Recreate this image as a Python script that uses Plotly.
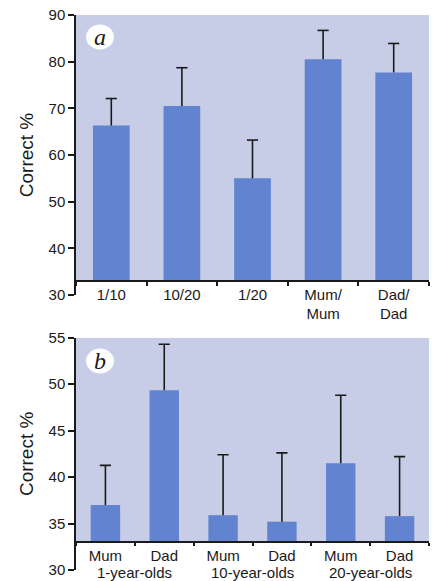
import plotly.graph_objects as go

# ---- Panel a data ----
cats_a = ["1/10", "10/20", "1/20", "Mum/<br>Mum", "Dad/<br>Dad"]
vals_a = [66.3, 70.5, 55.0, 80.5, 77.7]
errs_a = [5.8, 8.2, 8.2, 6.2, 6.2]
yticks_a = [30, 40, 50, 60, 70, 80, 90]

# ---- Panel b data ----
groups_b = ["1-year-olds", "1-year-olds", "10-year-olds", "10-year-olds",
            "20-year-olds", "20-year-olds"]
parents_b = ["Mum", "Dad", "Mum", "Dad", "Mum", "Dad"]
vals_b = [37.0, 49.35, 35.9, 35.2, 41.5, 35.8]
errs_b = [4.26, 4.95, 6.5, 7.4, 7.3, 6.4]
yticks_b = [30, 35, 40, 45, 50, 55]

panel_labels = ["a", "b"]

BASE = 33
BG = "#c7cde6"
BAR = "#6283cf"
INK = "#1a1a1a"
FONT = "Liberation Sans, Arial, sans-serif"

W, H = 437, 581
ML, MR, MT, MB = 76, 8, 15, 11


def fy(px):
    return (H - MB - px) / (H - MT - MB)


def fx(px):
    return (px - ML) / (W - ML - MR)


top_dom = [fy(295), 1.0]
bot_dom = [0.0, fy(337.7)]

# unique category keys for panel b, labelled by parent
keys_b = [g + " " + p for g, p in zip(groups_b, parents_b)]

fig = go.Figure()

err_line = dict(type="data", symmetric=False, color=INK, thickness=1.6, width=0)

fig.add_trace(go.Bar(
    x=cats_a, y=[v - BASE for v in vals_a], base=BASE,
    marker=dict(color=BAR, line=dict(width=0)), width=0.52,
    error_y=dict(err_line, array=errs_a, arrayminus=[0] * len(errs_a)),
    xaxis="x", yaxis="y", showlegend=False, hoverinfo="skip"))
fig.add_trace(go.Scatter(
    x=cats_a, y=[v + e for v, e in zip(vals_a, errs_a)], mode="markers",
    marker=dict(symbol="line-ew", size=8, line=dict(color=INK, width=1.6)),
    xaxis="x", yaxis="y", showlegend=False, hoverinfo="skip"))

fig.add_trace(go.Bar(
    x=keys_b, y=[v - BASE for v in vals_b], base=BASE,
    marker=dict(color=BAR, line=dict(width=0)), width=0.5,
    error_y=dict(err_line, array=errs_b, arrayminus=[0] * len(errs_b)),
    xaxis="x2", yaxis="y2", showlegend=False, hoverinfo="skip"))
fig.add_trace(go.Scatter(
    x=keys_b, y=[v + e for v, e in zip(vals_b, errs_b)], mode="markers",
    marker=dict(symbol="line-ew", size=8, line=dict(color=INK, width=1.6)),
    xaxis="x2", yaxis="y2", showlegend=False, hoverinfo="skip"))

tickfont = dict(family=FONT, size=15, color=INK)
common_x = dict(showline=True, linecolor=INK, linewidth=1.5, ticks="outside",
                ticklen=4, tickwidth=1.5, tickcolor=INK, tickfont=tickfont,
                showgrid=False, zeroline=False, anchor="free", automargin=False,
                ticklabeloverflow="allow", tickson="boundaries")
common_y = dict(showline=True, linecolor=INK, linewidth=1.5, ticks="outside",
                ticklen=6, tickwidth=1.5, tickcolor=INK, tickfont=tickfont,
                showgrid=False, zeroline=False, automargin=False,
                ticklabeloverflow="allow",
                title=dict(text="Correct %", font=dict(family=FONT, size=19, color=INK),
                           standoff=10))

fig.update_layout(
    width=W, height=H,
    margin=dict(l=ML, r=MR, t=MT, b=MB),
    paper_bgcolor="white", plot_bgcolor="rgba(0,0,0,0)",
    xaxis=dict(common_x, domain=[0, 1],
               position=top_dom[0] + (BASE - 30) / 60 * (top_dom[1] - top_dom[0])),
    yaxis=dict(common_y, domain=top_dom, range=[30, 90], tickvals=yticks_a,
               anchor="x"),
    xaxis2=dict(common_x, domain=[0, 1], ticklen=3,
                tickmode="array", tickvals=keys_b, ticktext=parents_b,
                position=bot_dom[0] + (BASE - 30) / 25 * (bot_dom[1] - bot_dom[0])),
    yaxis2=dict(common_y, domain=bot_dom, range=[30, 55], tickvals=yticks_b,
                anchor="x2"),
)

# group labels beneath panel b, centred under each pair of bars
for g in dict.fromkeys(groups_b):
    idx = [i for i, gg in enumerate(groups_b) if gg == g]
    fig.add_annotation(text=g, xref="x2", yref="paper",
                       x=sum(idx) / len(idx), y=fy(572),
                       xanchor="center", yanchor="middle", showarrow=False,
                       borderpad=0, font=tickfont)

# shaded plot backgrounds above the x-axis line
fig.add_shape(type="rect", xref="x domain", yref="y", x0=0, x1=1, y0=BASE, y1=90,
              fillcolor=BG, line=dict(width=0), layer="below")
fig.add_shape(type="rect", xref="x2 domain", yref="y2", x0=0, x1=1, y0=BASE, y1=55,
              fillcolor=BG, line=dict(width=0), layer="below")

# panel label badges
for lab, cy in zip(panel_labels, [37, 361]):
    fig.add_shape(type="circle", xref="paper", yref="paper",
                  xsizemode="pixel", ysizemode="pixel",
                  xanchor=fx(100), yanchor=fy(cy),
                  x0=-14, x1=14, y0=-12.5, y1=12.5,
                  fillcolor="white", line=dict(width=0), layer="above")
    fig.add_annotation(text="<i>" + lab + "</i>", xref="paper", yref="paper",
                       x=fx(100), y=fy(cy), xanchor="center", yanchor="middle",
                       showarrow=False,
                       font=dict(family="Liberation Serif, DejaVu Serif, serif",
                                 size=24, color=INK))

fig.write_html("out.html", config={"displayModeBar": False},
               post_script="document.body.style.margin='0';"
                           "document.body.style.overflow='hidden';")
